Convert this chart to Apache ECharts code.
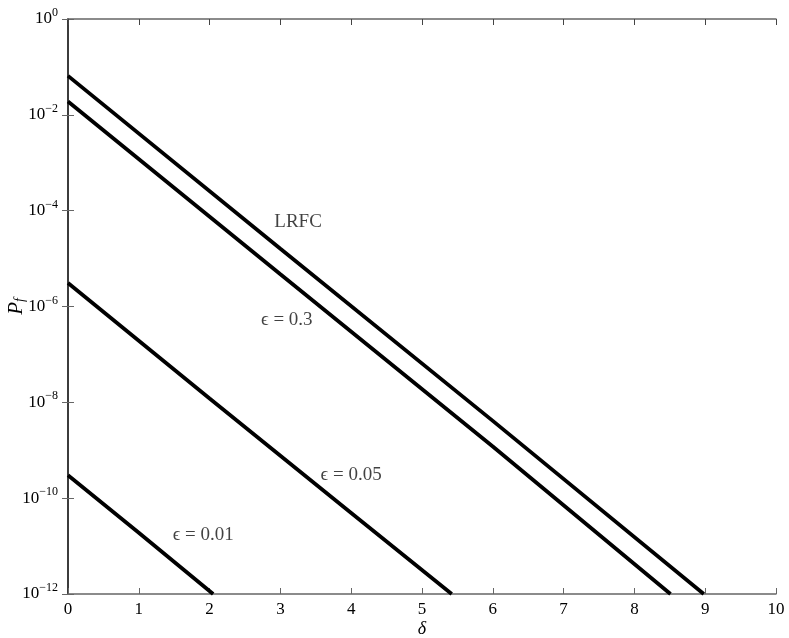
<!DOCTYPE html>
<html><head><meta charset="utf-8">
<script src="https://cdn.jsdelivr.net/npm/echarts@6/dist/echarts.min.js"></script>
<style>html,body{margin:0;padding:0;background:#fff}#c{width:789px;height:638px}</style>
</head><body><div id="c"></div>
<script>
// delta values and P_f values (straight lines on log scale)
const lrfcX = [0, 3, 6, 8.98];
const lrfcY = [6.5e-2, 1.6e-5, 4.1e-9, 1.0e-12];
const e03X = [0, 3, 6, 8.51];
const e03Y = [1.9e-2, 4.7e-6, 1.2e-9, 1.0e-12];
const e005X = [0, 2, 4, 5.42];
const e005Y = [3.1e-6, 1.2e-8, 4.9e-11, 1.0e-12];
const e001X = [0, 1, 2.05];
const e001Y = [3.0e-10, 1.9e-11, 1.0e-12];
const labelText = ['LRFC', 'ϵ = 0.3', 'ϵ = 0.05', 'ϵ = 0.01'];
const labelX = [3.25, 3.09, 4.0, 1.91];
const labelY = [5.8e-5, 5.3e-7, 3.0e-10, 1.7e-11];

function pairs(xs, ys){ return xs.map((x,i)=>[x, ys[i]]); }
const chart = echarts.init(document.getElementById('c'));
const font = 'Liberation Serif';
const lineStyle = {color:'#000', width:3.8};
function lineSeries(name, xs, ys){
  return {name, type:'line', data:pairs(xs,ys), symbol:'none', lineStyle, z:3, silent:true, clip:true};
}
function supLabel(v){
  const e = Math.round(Math.log10(v));
  return '{b|10}{s|' + (e<0 ? '\u2212'+(-e) : e) + '}';
}
chart.setOption({
  animation:false,
  grid:{left:68, right:13, top:19, bottom:44, containLabel:false, outerBoundsMode:'none'},
  xAxis:[{type:'value', min:0, max:10, interval:1,
    name:'δ', nameLocation:'middle', nameGap:26, nameMoveOverlap:false,
    nameTextStyle:{fontFamily:font, fontStyle:'italic', fontSize:18, color:'#000'},
    axisLine:{lineStyle:{color:'#666', width:1.5}},
    axisTick:{inside:true, length:6, lineStyle:{color:'#666'}},
    axisLabel:{fontFamily:font, fontSize:17, color:'#000', margin:7},
    splitLine:{show:false}},
   {type:'value', min:0, max:10, interval:1, position:'top',
    axisLine:{lineStyle:{color:'#666', width:1.5}},
    axisTick:{inside:true, length:6, lineStyle:{color:'#444'}},
    axisLabel:{show:false}, splitLine:{show:false}}],
  yAxis:[{type:'log', min:1e-12, max:1, interval:2, logBase:10,
    name:'{i|P}{sub|f}', nameLocation:'middle', nameGap:41, nameRotate:90, nameMoveOverlap:false,
    nameTextStyle:{rich:{i:{fontFamily:font, fontStyle:'italic', fontSize:21, color:'#000'},
                         sub:{fontFamily:font, fontStyle:'italic', fontSize:14, color:'#000', verticalAlign:'bottom', padding:[8,0,0,0]}}},
    axisLine:{lineStyle:{color:'#666', width:1.5}},
    axisTick:{inside:true, length:6, lineStyle:{color:'#666'}},
    minorTick:{show:false},
    axisLabel:{formatter:supLabel, margin:10,
      rich:{b:{fontFamily:font, fontSize:17, color:'#000'},
            s:{fontFamily:font, fontSize:12, color:'#000', verticalAlign:'top', padding:[0,0,12,0]}}},
    splitLine:{show:false}},
   {type:'log', min:1e-12, max:1, interval:2, logBase:10, position:'right',
    axisLine:{lineStyle:{color:'#222', width:1.5}},
    axisTick:{inside:true, length:6, lineStyle:{color:'#666'}},
    axisLabel:{show:false}, splitLine:{show:false}}],
  series:[
    lineSeries('LRFC', lrfcX, lrfcY),
    lineSeries('0.3', e03X, e03Y),
    lineSeries('0.05', e005X, e005Y),
    lineSeries('0.01', e001X, e001Y),
    {type:'scatter', symbolSize:0, silent:true, z:5,
     data:labelText.map((t,i)=>({value:[labelX[i], labelY[i]], name:t})),
     label:{show:true, position:'inside', formatter:p=>p.name,
       fontFamily:'Liberation Serif, DejaVu Serif', fontSize:19, color:'#111'}}
  ]
});
</script></body></html>
